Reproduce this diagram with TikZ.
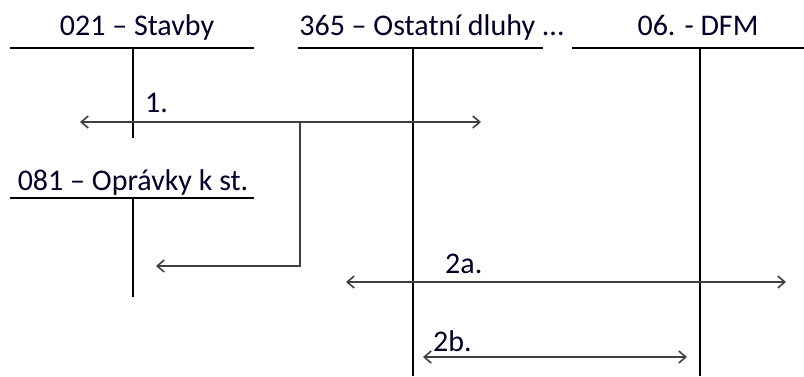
\documentclass[tikz,border=0pt]{standalone}
\usepackage{fontspec}
\setmainfont{Carlito}
\usetikzlibrary{arrows.meta}
\begin{document}
\begin{tikzpicture}[x=1pt,y=-1pt,
  acct/.style={line width=1.6pt,black},
  flow/.style={line width=1.8pt,black!75,arrows={-Straight Barb[length=7pt,width=12pt,line width=1.6pt]}},
  flow2/.style={line width=1.8pt,black!75,arrows={Straight Barb[length=7pt,width=12pt,line width=1.6pt]-Straight Barb[length=7pt,width=12pt,line width=1.6pt]}},
  ttl/.style={font=\fontsize{30}{32}\selectfont,text=black!85!blue,anchor=base,inner sep=0pt},
  lbl/.style={font=\fontsize{30}{32}\selectfont,text=black!85!blue,anchor=base west,inner sep=0pt}]
\useasboundingbox (0,0) rectangle (804,376);
% titles
\node[ttl] (t1) at (137,35) {021 – Stavby};
\node[ttl] (t2) at (432,35) {365 – Ostatní dluhy ...};
\node[ttl] (t3) at (698,35) {06. - DFM};
\node[ttl] (t4) at (133,190) {081 – Oprávky k st.};
% account T lines
\coordinate (a1l) at (10,48); \coordinate (a1r) at (254,48);
\coordinate (a1t) at (133,48); \coordinate (a1b) at (133,138);
\coordinate (a2l) at (298,48); \coordinate (a2r) at (543,48);
\coordinate (a2t) at (413,48); \coordinate (a2b) at (413,376);
\coordinate (a3l) at (572,48); \coordinate (a3r) at (804,48);
\coordinate (a3t) at (700,48); \coordinate (a3b) at (700,376);
\coordinate (a4l) at (10,198); \coordinate (a4r) at (254,198);
\coordinate (a4t) at (133,198); \coordinate (a4b) at (133,297);
\draw[acct] (a1l) -- (a1r) (a1t) -- (a1b);
\draw[acct] (a2l) -- (a2r) (a2t) -- (a2b);
\draw[acct] (a3l) -- (a3r) (a3t) -- (a3b);
\draw[acct] (a4l) -- (a4r) (a4t) -- (a4b);
% flow 1
\coordinate (f1l) at (80,122); \coordinate (f1r) at (481,122);
\coordinate (f1m) at (300,122); \coordinate (f1d) at (300,266);
\coordinate (f1e) at (156,266);
\draw[flow2] (f1l) -- (f1r);
\draw[flow] (f1m) -- (f1d) -- (f1e);
\node[lbl] (l1) at (145,112) {1.};
% flow 2a
\coordinate (f2l) at (346,282); \coordinate (f2r) at (786,282);
\draw[flow2] (f2l) -- (f2r);
\node[lbl] (l2a) at (445,273) {2a.};
% flow 2b
\coordinate (f3l) at (423,357); \coordinate (f3r) at (687,357);
\draw[flow2] (f3l) -- (f3r);
\node[lbl] (l2b) at (433,351) {2b.};
\end{tikzpicture}
\end{document}
